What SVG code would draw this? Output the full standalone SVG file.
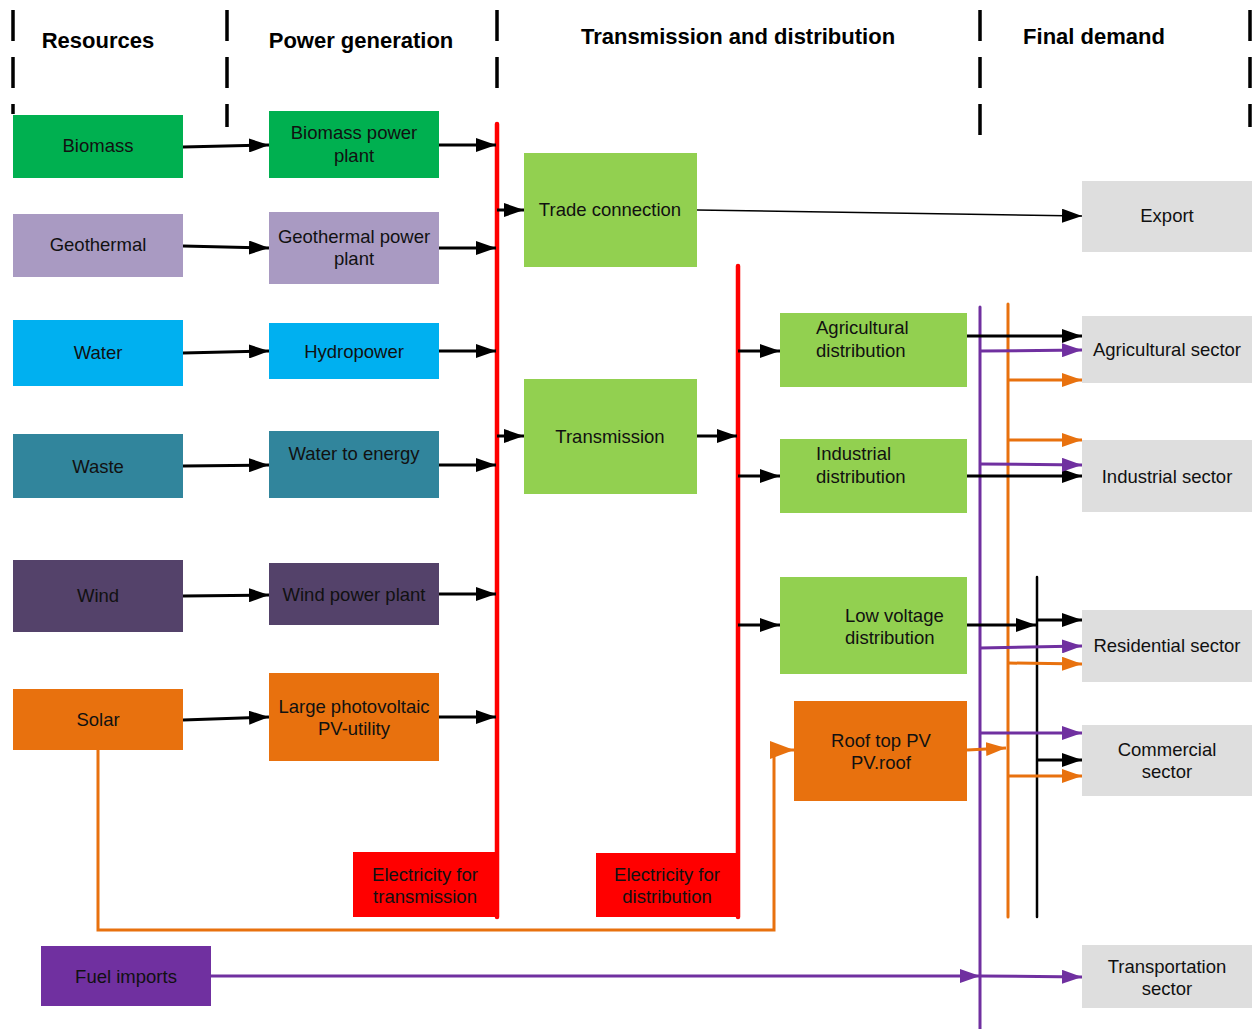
<svg xmlns="http://www.w3.org/2000/svg" width="1258" height="1029" viewBox="0 0 1258 1029">
<style>
  .hdr{font-family:"Liberation Sans",Arial,sans-serif;font-size:22px;font-weight:bold;fill:#000;text-anchor:middle}
  .t{font-family:"Liberation Sans",Arial,sans-serif;font-size:18.5px;fill:#111;text-anchor:middle}
  .tl{font-family:"Liberation Sans",Arial,sans-serif;font-size:18.5px;fill:#111;text-anchor:start}
  .div{stroke:#000;stroke-width:3.5;stroke-dasharray:31 16;fill:none}
  .blk{stroke:#000;stroke-width:3;fill:none;marker-end:url(#ab)}
  .thin{stroke:#000;stroke-width:1.6;fill:none;marker-end:url(#ab)}
  .pur{stroke:#7030a0;stroke-width:3;fill:none;marker-end:url(#ap)}
  .org{stroke:#e8710e;stroke-width:3;fill:none;marker-end:url(#ao)}
  .bus{fill:none;stroke-linecap:round}
</style>
<defs>
  <marker id="ab" markerWidth="20" markerHeight="14" refX="20" refY="7" orient="auto" markerUnits="userSpaceOnUse"><path d="M0,0 L20,7 L0,14 z" fill="#000"/></marker>
  <marker id="ap" markerWidth="20" markerHeight="14" refX="20" refY="7" orient="auto" markerUnits="userSpaceOnUse"><path d="M0,0 L20,7 L0,14 z" fill="#7030a0"/></marker>
  <marker id="ao" markerWidth="20" markerHeight="14" refX="20" refY="7" orient="auto" markerUnits="userSpaceOnUse"><path d="M0,0 L20,7 L0,14 z" fill="#e8710e"/></marker>
  <marker id="aoL" markerWidth="24" markerHeight="18" refX="24" refY="9" orient="auto" markerUnits="userSpaceOnUse"><path d="M0,0 L24,9 L0,18 z" fill="#e8710e"/></marker>
</defs>
<rect width="1258" height="1029" fill="#fff"/>

<g id="headers">
  <line class="div" x1="13" y1="10" x2="13" y2="114"/>
  <line class="div" x1="227" y1="10" x2="227" y2="127"/>
  <line class="div" x1="497" y1="10" x2="497" y2="89"/>
  <line class="div" x1="980" y1="10" x2="980" y2="135"/>
  <line class="div" x1="1250" y1="10" x2="1250" y2="127"/>
  <text class="hdr" x="98" y="48">Resources</text>
  <text class="hdr" x="361" y="48">Power generation</text>
  <text class="hdr" x="738" y="44">Transmission and distribution</text>
  <text class="hdr" x="1094" y="44">Final demand</text>
</g>

<g id="connectors">
  <line class="bus" x1="497" y1="124" x2="497" y2="917" stroke="#ff0000" stroke-width="4.5"/>
  <line class="bus" x1="738" y1="266" x2="738" y2="917" stroke="#ff0000" stroke-width="4.5"/>
  <line class="bus" x1="980" y1="307" x2="980" y2="1029" stroke="#7030a0" stroke-width="3"/>
  <line class="bus" x1="1008" y1="304" x2="1008" y2="917" stroke="#e8710e" stroke-width="3"/>
  <line class="bus" x1="1037" y1="577" x2="1037" y2="917" stroke="#000" stroke-width="2.5"/>

  <line class="blk" x1="183" y1="147" x2="269" y2="145"/>
  <line class="blk" x1="183" y1="246" x2="269" y2="248"/>
  <line class="blk" x1="183" y1="353" x2="269" y2="351"/>
  <line class="blk" x1="183" y1="466" x2="269" y2="465"/>
  <line class="blk" x1="183" y1="596" x2="269" y2="595"/>
  <line class="blk" x1="183" y1="720" x2="269" y2="717"/>

  <line class="blk" x1="439" y1="145" x2="496" y2="145"/>
  <line class="blk" x1="439" y1="248" x2="496" y2="248"/>
  <line class="blk" x1="439" y1="351" x2="496" y2="351"/>
  <line class="blk" x1="439" y1="465" x2="496" y2="465"/>
  <line class="blk" x1="439" y1="594" x2="496" y2="594"/>
  <line class="blk" x1="439" y1="717" x2="496" y2="717"/>

  <line class="blk" x1="497" y1="210" x2="524" y2="210"/>
  <line class="blk" x1="497" y1="436" x2="524" y2="436"/>
  <line class="blk" x1="697" y1="436" x2="737" y2="436"/>
  <line class="blk" x1="738" y1="351" x2="780" y2="351"/>
  <line class="blk" x1="738" y1="476" x2="780" y2="476"/>
  <line class="blk" x1="738" y1="625" x2="780" y2="625"/>
  <line class="thin" x1="697" y1="210" x2="1082" y2="216"/>

  <line class="blk" x1="965" y1="336" x2="1082" y2="336"/>
  <line class="blk" x1="965" y1="476" x2="1082" y2="476"/>
  <line class="blk" x1="965" y1="625" x2="1036" y2="625"/>
  <line class="blk" x1="1037" y1="620" x2="1082" y2="620"/>
  <line class="blk" x1="1037" y1="760" x2="1082" y2="760"/>

  <line class="pur" x1="980" y1="351" x2="1082" y2="350"/>
  <line class="pur" x1="980" y1="464" x2="1082" y2="465"/>
  <line class="pur" x1="980" y1="648" x2="1082" y2="646"/>
  <line class="pur" x1="980" y1="733" x2="1082" y2="733"/>
  <line class="pur" x1="211" y1="976" x2="980" y2="976"/>
  <line class="pur" x1="980" y1="976" x2="1082" y2="977"/>

  <line class="org" x1="1008" y1="380" x2="1082" y2="380"/>
  <line class="org" x1="1008" y1="440" x2="1082" y2="440"/>
  <line class="org" x1="1008" y1="663" x2="1082" y2="664"/>
  <line class="org" x1="1008" y1="776" x2="1082" y2="776"/>
  <line class="org" x1="967" y1="750" x2="1006" y2="748"/>
  <path d="M98,750 V930 H774 V750 H794" stroke="#e8710e" stroke-width="3" fill="none" marker-end="url(#aoL)"/>
</g>

<g id="res-biomass"><rect x="13" y="115" width="170" height="63" fill="#00b050"/><text class="t" x="98" y="151.5">Biomass</text></g>
<g id="res-geothermal"><rect x="13" y="214" width="170" height="63" fill="#a99ac2"/><text class="t" x="98" y="250.5">Geothermal</text></g>
<g id="res-water"><rect x="13" y="320" width="170" height="66" fill="#00b0f0"/><text class="t" x="98" y="358.5">Water</text></g>
<g id="res-waste"><rect x="13" y="434" width="170" height="64" fill="#31859c"/><text class="t" x="98" y="472.5">Waste</text></g>
<g id="res-wind"><rect x="13" y="560" width="170" height="72" fill="#54426a"/><text class="t" x="98" y="601.5">Wind</text></g>
<g id="res-solar"><rect x="13" y="689" width="170" height="61" fill="#e8710e"/><text class="t" x="98" y="725.5">Solar</text></g>

<g id="gen-biomass"><rect x="269" y="111" width="170" height="67" fill="#00b050"/><text class="t" x="354" y="138.5">Biomass power</text><text class="t" x="354" y="161.5">plant</text></g>
<g id="gen-geothermal"><rect x="269" y="212" width="170" height="72" fill="#a99ac2"/><text class="t" x="354" y="242.5">Geothermal power</text><text class="t" x="354" y="264.5">plant</text></g>
<g id="gen-hydro"><rect x="269" y="323" width="170" height="56" fill="#00b0f0"/><text class="t" x="354" y="357.5">Hydropower</text></g>
<g id="gen-wte"><rect x="269" y="431" width="170" height="67" fill="#31859c"/><text class="t" x="354" y="459.5">Water to energy</text></g>
<g id="gen-wind"><rect x="269" y="563" width="170" height="62" fill="#54426a"/><text class="t" x="354" y="600.5">Wind power plant</text></g>
<g id="gen-pv"><rect x="269" y="673" width="170" height="88" fill="#e8710e"/><text class="t" x="354" y="712.5">Large photovoltaic</text><text class="t" x="354" y="734.5">PV-utility</text></g>

<g id="trade"><rect x="524" y="153" width="173" height="114" fill="#92d050"/><text class="t" x="610" y="215.5">Trade connection</text></g>
<g id="transmission"><rect x="524" y="379" width="173" height="115" fill="#92d050"/><text class="t" x="610" y="442.5">Transmission</text></g>

<g id="agri-dist"><rect x="780" y="313" width="187" height="74" fill="#92d050"/><text class="tl" x="816" y="333.5">Agricultural</text><text class="tl" x="816" y="356.5">distribution</text></g>
<g id="ind-dist"><rect x="780" y="439" width="187" height="74" fill="#92d050"/><text class="tl" x="816" y="459.5">Industrial</text><text class="tl" x="816" y="482.5">distribution</text></g>
<g id="lv-dist"><rect x="780" y="577" width="187" height="97" fill="#92d050"/><text class="tl" x="845" y="621.5">Low voltage</text><text class="tl" x="845" y="643.5">distribution</text></g>
<g id="rooftop-pv"><rect x="794" y="701" width="173" height="100" fill="#e8710e"/><text class="t" x="881" y="746.5">Roof top PV</text><text class="t" x="881" y="768.5">PV.roof</text></g>

<g id="elec-trans"><rect x="353" y="852" width="144" height="65" fill="#ff0000"/><text class="t" x="425" y="880.5">Electricity for</text><text class="t" x="425" y="902.5">transmission</text></g>
<g id="elec-dist"><rect x="596" y="853" width="142" height="64" fill="#ff0000"/><text class="t" x="667" y="880.5">Electricity for</text><text class="t" x="667" y="902.5">distribution</text></g>
<g id="fuel-imports"><rect x="41" y="946" width="170" height="60" fill="#7030a0"/><text class="t" x="126" y="982.5">Fuel imports</text></g>

<g id="export"><rect x="1082" y="181" width="170" height="71" fill="#dedede"/><text class="t" x="1167" y="221.5">Export</text></g>
<g id="agri-sector"><rect x="1082" y="316" width="170" height="67" fill="#dedede"/><text class="t" x="1167" y="355.5">Agricultural sector</text></g>
<g id="ind-sector"><rect x="1082" y="440" width="170" height="72" fill="#dedede"/><text class="t" x="1167" y="482.5">Industrial sector</text></g>
<g id="res-sector"><rect x="1082" y="610" width="170" height="72" fill="#dedede"/><text class="t" x="1167" y="651.5">Residential sector</text></g>
<g id="com-sector"><rect x="1082" y="725" width="170" height="71" fill="#dedede"/><text class="t" x="1167" y="755.5">Commercial</text><text class="t" x="1167" y="777.5">sector</text></g>
<g id="trans-sector"><rect x="1082" y="945" width="170" height="63" fill="#dedede"/><text class="t" x="1167" y="972.5">Transportation</text><text class="t" x="1167" y="994.5">sector</text></g>
</svg>
